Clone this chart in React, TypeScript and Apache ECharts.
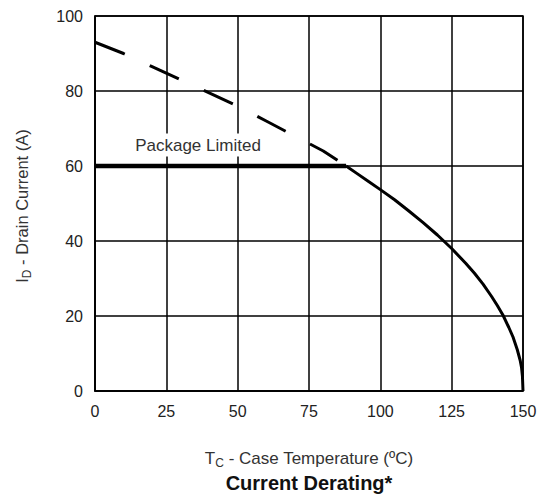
import React, { useEffect, useRef } from "react";
import * as echarts from "echarts";

const xTicks = [0, 25, 50, 75, 100, 125, 150];
const yTicks = [0, 20, 40, 60, 80, 100];

// Dashed (theoretical, above package limit) portion: [Tc, Id]
const dashedT = [0, 10, 20, 30, 40, 50, 60, 70, 80, 88];
const dashedI = [93, 90, 86.5, 83, 79.5, 76, 72, 68, 64, 60];

// Package limit
const pkgT = [0, 88];
const pkgI = [60, 60];

// Solid derating curve
const solidT = [88, 92, 96, 100, 105, 110, 115, 120, 125, 130, 133, 136, 139, 141, 143, 145, 146.5, 148, 149, 149.5, 149.8, 150];
const solidI = [60, 57.9, 55.8, 53.7, 51, 48, 44.9, 41.6, 38, 34, 31.4, 28.5, 25.2, 22.8, 20.2, 17, 14.4, 11, 8.2, 6.2, 4, 0];

const pairs = (xs: number[], ys: number[]) => xs.map((x, i) => [x, ys[i]]);

export default function App() {
  const ref = useRef<HTMLDivElement>(null);
  useEffect(() => {
    if (!ref.current) return;
    const chart = echarts.init(ref.current, undefined, { renderer: "svg" });
    const font = "'Liberation Sans', Arial, sans-serif";
    chart.setOption({
      animation: false,
      backgroundColor: "#fff",
      grid: {
        left: 95,
        top: 16,
        width: 428,
        height: 375,
        show: true,
        borderColor: "#000",
        borderWidth: 1.5,
      },
      xAxis: {
        type: "value",
        min: 0,
        max: 150,
        interval: 25,
        axisLine: { show: true, lineStyle: { color: "#000", width: 1.5 } },
        axisTick: { show: false },
        axisLabel: { color: "#222", fontSize: 16, fontFamily: font, margin: 12 },
        splitLine: { show: true, lineStyle: { color: "#000", width: 1.5 } },
      },
      yAxis: {
        type: "value",
        min: 0,
        max: 100,
        interval: 20,
        axisLine: { show: true, lineStyle: { color: "#000", width: 1.5 } },
        axisTick: { show: false },
        axisLabel: { color: "#222", fontSize: 16, fontFamily: font, margin: 12 },
        splitLine: { show: true, lineStyle: { color: "#000", width: 1.5 } },
      },
      series: [
        {
          type: "line",
          data: pairs(dashedT, dashedI),
          showSymbol: false,
          lineStyle: { color: "#000", width: 3, type: [32, 27.5] },
          z: 5,
        },
        {
          type: "line",
          data: pairs(pkgT, pkgI),
          showSymbol: false,
          lineStyle: { color: "#000", width: 4.5 },
          z: 5,
        },
        {
          type: "line",
          data: pairs(solidT, solidI),
          showSymbol: false,
          lineStyle: { color: "#000", width: 3 },
          z: 5,
        },
      ],
      graphic: [
        {
          type: "text",
          x: 198,
          y: 145,
          z: 100,
          style: {
            text: "Package Limited",
            fontFamily: font,
            fontSize: 17,
            fill: "#333",
            align: "center",
            verticalAlign: "middle",
            backgroundColor: "#fff",
            padding: [3, 2],
          },
        },
        {
          type: "text",
          x: 22,
          y: 206,
          rotation: Math.PI / 2,
          style: {
            text: "{n|I}{s|D}{n| - Drain Current (A)}",
            fontFamily: font,
            align: "center",
            verticalAlign: "middle",
            fill: "#333",
            rich: {
              n: { fontSize: 16.5, lineHeight: 22, fill: "#333", fontFamily: font, verticalAlign: "middle" },
              s: { fontSize: 12, lineHeight: 12, fill: "#333", fontFamily: font, verticalAlign: "bottom" },
            },
          },
        },
        {
          type: "text",
          x: 309,
          y: 458,
          style: {
            text: "{n|T}{s|C}{n| - Case Temperature (ºC)}",
            fontFamily: font,
            align: "center",
            verticalAlign: "middle",
            fill: "#333",
            rich: {
              n: { fontSize: 17, lineHeight: 22, fill: "#333", fontFamily: font, verticalAlign: "middle" },
              s: { fontSize: 12, lineHeight: 12, fill: "#333", fontFamily: font, verticalAlign: "bottom" },
            },
          },
        },
        {
          type: "text",
          x: 309,
          y: 483,
          style: {
            text: "Current Derating*",
            fontFamily: font,
            fontSize: 20,
            fontWeight: "bold",
            fill: "#111",
            align: "center",
            verticalAlign: "middle",
          },
        },
      ],
    });
    return () => chart.dispose();
  }, []);
  return <div ref={ref} style={{ width: 548, height: 496, position: "absolute", left: 0, top: 0 }} />;
}
